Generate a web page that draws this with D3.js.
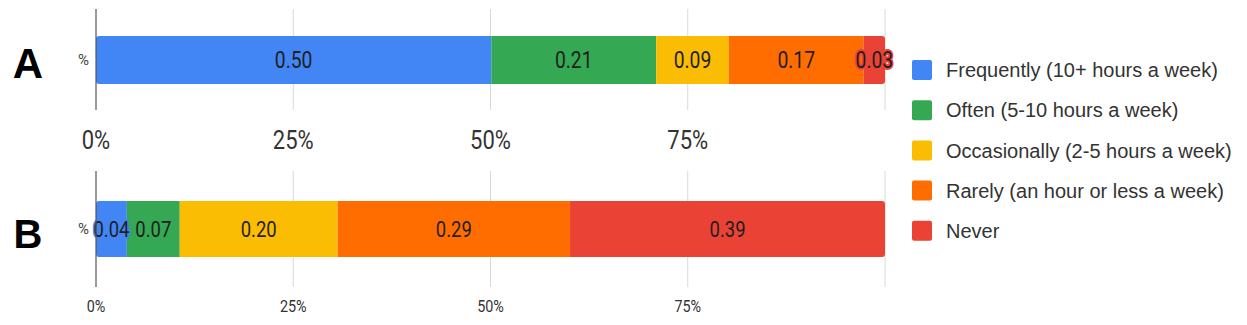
<!DOCTYPE html>
<html>
<head>
<meta charset="utf-8">
<script src="https://cdn.jsdelivr.net/npm/d3@7"></script>
<style>
  body { margin: 0; background: #fff; }
  svg { display: block; }
</style>
</head>
<body>
<svg id="chart" width="1247" height="325"></svg>
<script>
// Data
const categories = [
    "Frequently (10+ hours a week)",
    "Often (5-10 hours a week)",
    "Occasionally (2-5 hours a week)",
    "Rarely (an hour or less a week)",
    "Never"
];
const colors = ["#4285f4", "#34a853", "#fbbc04", "#ff6d01", "#ea4335"];
const panelNames = ["A", "B"];
const valuesA = [0.501, 0.209, 0.092, 0.171, 0.027];
const valuesB = [0.0385, 0.066, 0.197, 0.290, 0.393];
const tickValues = [0, 0.25, 0.5, 0.75];
const gridValues = [0, 0.25, 0.5, 0.75, 1];
const rowLabel = "%";

const svg = d3.select("#chart");
const x = d3.scaleLinear().domain([0, 1]).range([96, 885]);
const color = d3.scaleOrdinal(categories, colors);
const fmt = d3.format(".2f");

// per panel layout
const panels = [
    { name: panelNames[0], values: valuesA, top: 9, bottom: 110, barY: 36, barH: 48, tickY: 140, tickSize: 25, tickScale: 0.88, labelSize: 23, letterY: 63, letterSize: 42 },
    { name: panelNames[1], values: valuesB, top: 171, bottom: 287, barY: 201, barH: 56, tickY: 306, tickSize: 16, tickScale: 0.9, labelSize: 22, letterY: 234, letterSize: 40 }
];

panels.forEach((p, pi) => {
    const g = svg.append("g").attr("class", "panel");

    // gridlines
    g.append("g")
        .selectAll("line")
        .data(gridValues.slice(1))
        .join("line")
            .attr("x1", d => x(d)).attr("x2", d => x(d))
            .attr("y1", p.top).attr("y2", p.bottom)
            .attr("stroke", "#d9d9d9")
            .attr("stroke-width", 1);

    // 100% stacked: normalise each bar by its total
    const total = d3.sum(p.values);
    let acc = 0;
    const segs = p.values.map((v, i) => {
        const s = { key: categories[i], value: v, x0: acc / total, x1: (acc + v) / total };
        acc += v;
        return s;
    });

    const clipId = "clip" + pi;
    g.append("clipPath").attr("id", clipId)
        .append("rect")
        .attr("x", x(0)).attr("y", p.barY)
        .attr("width", x(1) - x(0)).attr("height", p.barH)
        .attr("rx", 3);

    g.append("g")
        .attr("clip-path", `url(#${clipId})`)
        .selectAll("rect")
        .data(segs)
        .join("rect")
            .attr("x", d => x(d.x0))
            .attr("y", p.barY)
            .attr("width", d => x(d.x1) - x(d.x0))
            .attr("height", p.barH)
            .attr("fill", d => color(d.key));

    // value labels, condensed
    g.append("g")
        .selectAll("text")
        .data(segs)
        .join("text")
            .attr("transform", d => `translate(${(x(d.x0) + x(d.x1)) / 2},${p.barY + p.barH / 2}) scale(0.84,1)`)
            .attr("text-anchor", "middle")
            .attr("dy", "0.36em")
            .style("font-family", "Roboto, sans-serif")
            .style("font-size", p.labelSize + "px")
            .style("fill", "#1f1f1f")
            .style("stroke", d => color(d.key))
            .style("stroke-width", 4)
            .style("stroke-linejoin", "round")
            .style("paint-order", "stroke")
            .text(d => fmt(d.value));

    // zero line
    g.append("line")
        .attr("x1", x(0)).attr("x2", x(0))
        .attr("y1", p.top).attr("y2", p.bottom)
        .attr("stroke", "#555")
        .attr("stroke-width", 1.2);

    // tick labels
    g.append("g")
        .selectAll("text")
        .data(tickValues)
        .join("text")
            .attr("transform", d => `translate(${x(d)},${p.tickY}) scale(${p.tickScale},1)`)
            .attr("text-anchor", "middle")
            .attr("dy", "0.36em")
            .style("font-family", "Roboto, sans-serif")
            .style("font-size", p.tickSize + "px")
            .style("fill", "#333")
            .text(d => d3.format(".0%")(d));

    // category label
    g.append("text")
        .attr("x", 89).attr("y", p.barY + p.barH / 2)
        .attr("text-anchor", "end")
        .attr("dy", "0.36em")
        .style("font-family", "Roboto, sans-serif")
        .style("font-size", "15px")
        .style("fill", "#444")
        .text(rowLabel);

    // panel letter
    g.append("text")
        .attr("x", 28).attr("y", p.letterY)
        .attr("text-anchor", "middle")
        .attr("dy", "0.36em")
        .style("font-family", "'Liberation Sans', Arial, sans-serif")
        .style("font-weight", "bold")
        .style("font-size", p.letterSize + "px")
        .style("fill", "#000")
        .text(p.name);
});

// Legend
const legend = svg.append("g")
    .attr("transform", "translate(912,70)")
    .selectAll("g")
    .data(categories)
    .join("g")
        .attr("transform", (d, i) => `translate(0,${i * 40.2})`);

legend.append("rect")
    .attr("x", 0).attr("y", -10)
    .attr("width", 20).attr("height", 20)
    .attr("rx", 2)
    .attr("fill", d => color(d));

legend.append("text")
    .attr("x", 34).attr("y", 0)
    .attr("dy", "0.36em")
    .style("font-family", "'Liberation Sans', Arial, sans-serif")
    .style("font-size", "20px")
    .style("fill", "#333")
    .text(d => d);
</script>
</body>
</html>
